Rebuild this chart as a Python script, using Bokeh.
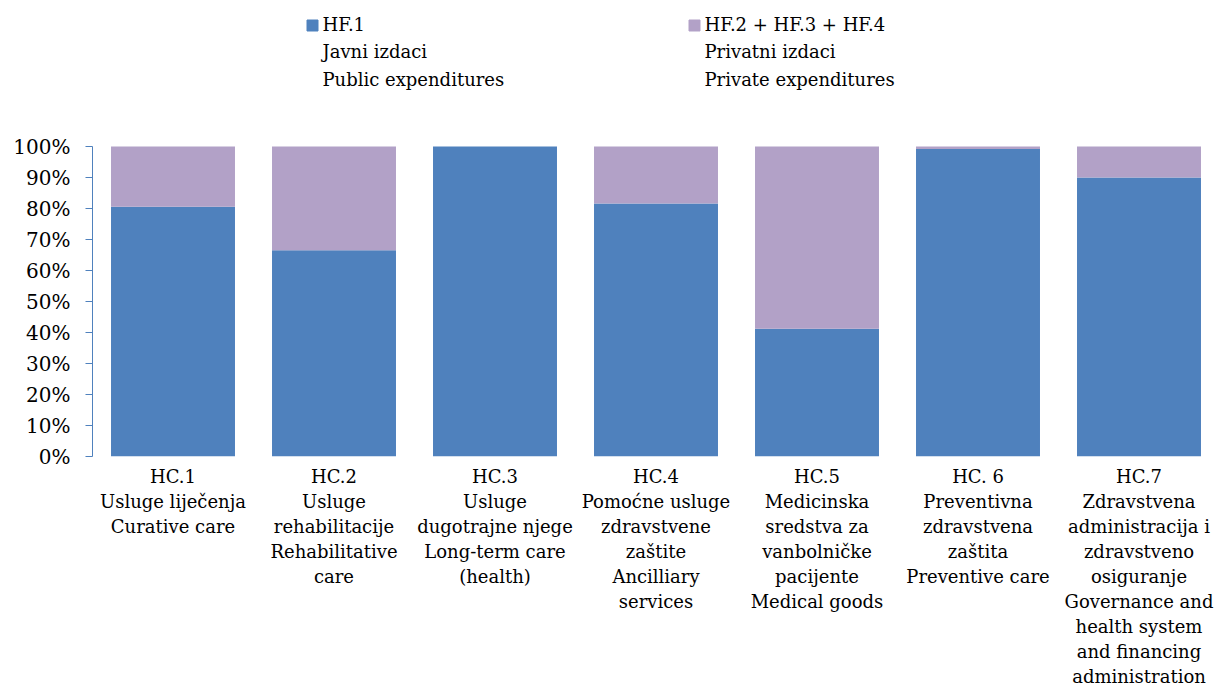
from bokeh.plotting import figure
from bokeh.models import Range1d, FixedTicker, PrintfTickFormatter, Label, ColumnDataSource
from bokeh.embed import file_html
from bokeh.resources import INLINE

# ---- data ----
categories = [
    "HC.1\nUsluge liječenja\nCurative care",
    "HC.2\nUsluge\nrehabilitacije\nRehabilitative\ncare",
    "HC.3\nUsluge\ndugotrajne njege\nLong-term care\n(health)",
    "HC.4\nPomoćne usluge\nzdravstvene\nzaštite\nAncilliary\nservices",
    "HC.5\nMedicinska\nsredstva za\nvanbolničke\npacijente\nMedical goods",
    "HC. 6\nPreventivna\nzdravstvena\nzaštita\nPreventive care",
    "HC.7\nZdravstvena\nadministracija i\nzdravstveno\nosiguranje\nGovernance and\nhealth system\nand financing\nadministration",
]
public = [80.6, 66.5, 100.0, 81.6, 41.2, 99.2, 90.0]     # HF.1
private = [19.4, 33.5, 0.0, 18.4, 58.8, 0.8, 10.0]      # HF.2 + HF.3 + HF.4
series_labels = ["HF.1\nJavni izdaci\nPublic expenditures",
                 "HF.2 + HF.3 + HF.4\nPrivatni izdaci\nPrivate expenditures"]
y_ticks = [0, 10, 20, 30, 40, 50, 60, 70, 80, 90, 100]

BLUE = "#4F81BD"
PURPLE = "#B2A1C7"
FONT = "DejaVu Serif"
FS_PX = 18
FS = f"{FS_PX}px"
METRIC = 1.164  # DejaVu ascent+descent per em

xs = list(range(len(categories)))
src = ColumnDataSource(dict(x=xs, public=public, private=private))

W, H = 1214, 691
LEFT, BOTTOM = 92, 235
CAT_PX = 161.0
frame_w = W - LEFT
frame_h = H - BOTTOM
px_per_unit = 3.1

p = figure(width=W, height=H, output_backend="svg", toolbar_location=None,
           x_range=Range1d(-0.5, -0.5 + frame_w / CAT_PX),
           y_range=Range1d(0, frame_h / px_per_unit),
           min_border_left=LEFT, min_border_right=0, min_border_top=0,
           min_border_bottom=BOTTOM)
p.outline_line_color = None
p.xgrid.visible = False
p.ygrid.visible = False
p.background_fill_color = "white"

p.vbar_stack(["public", "private"], x="x", width=0.77, source=src,
             color=[BLUE, PURPLE], line_color=None)

# y axis
ya = p.yaxis[0]
ya.ticker = FixedTicker(ticks=y_ticks)
ya.formatter = PrintfTickFormatter(format="%d%%")
ya.bounds = (0, 100)
ya.axis_line_color = BLUE
ya.major_tick_line_color = BLUE
ya.major_tick_out = 7
ya.major_tick_in = 0
ya.minor_tick_line_color = None
ya.major_label_text_font = FONT
ya.major_label_text_font_size = "20px"
ya.major_label_text_color = "black"
ya.major_label_standoff = 15

# x axis
xa = p.xaxis[0]
xa.ticker = FixedTicker(ticks=xs)
xa.major_label_overrides = {i: c for i, c in zip(xs, categories)}
xa.axis_line_color = None
xa.major_tick_line_color = None
xa.minor_tick_line_color = None
xa.major_tick_out = 0
xa.major_tick_in = 0
xa.major_label_text_font = FONT
xa.major_label_text_font_size = FS
xa.major_label_text_color = "black"
xa.major_label_text_line_height = 25 / (FS_PX * METRIC)
xa.major_label_standoff = 9

# legend (custom, multi-line)
def px_to_x(px):
    return -0.5 + (px - LEFT) / CAT_PX

def py_to_y(py):
    return (frame_h - py) / px_per_unit

for (sq_x, txt_x), col, lab in zip([(312, 322), (694, 704)], [BLUE, PURPLE], series_labels):
    p.scatter([px_to_x(sq_x)], [py_to_y(25)], marker="square", size=11,
              color=col, line_color=col)
    p.add_layout(Label(x=px_to_x(txt_x), y=py_to_y(13), text=lab,
                       text_font=FONT, text_font_size=FS, text_color="black",
                       text_baseline="top", text_align="left",
                       text_line_height=27.5 / (FS_PX * METRIC)))

open("out.html", "w").write(file_html(p, INLINE))
